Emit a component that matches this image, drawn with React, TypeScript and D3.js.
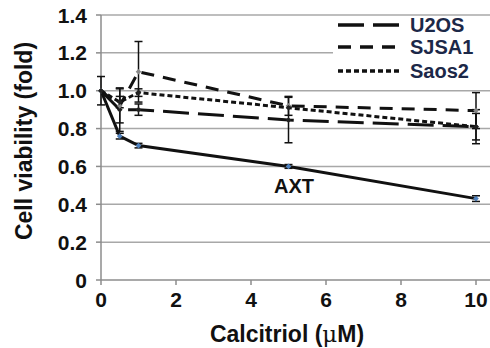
import React from 'react';
import * as d3 from 'd3';

// doses (µM) and the four viability series
const doses = [0, 0.5, 1, 5, 10];
const axt = [1.0, 0.76, 0.71, 0.6, 0.43];
const axtErr = [0.075, 0.015, 0.012, 0.01, 0.015];
const u2os = [1.0, 0.9, 0.9, 0.845, 0.81];
const u2osErr = [0, 0.115, 0.03, 0.12, 0.07];
const sjsa1 = [1.0, 0.92, 1.1, 0.92, 0.895];
const sjsa1Err = [0, 0.09, 0.16, 0.05, 0.095];
const saos2 = [1.0, 0.94, 0.99, 0.91, 0.81];
const saos2Err = [0, 0.03, 0.02, 0, 0.09];

const yTicks = [0, 0.2, 0.4, 0.6, 0.8, 1.0, 1.2, 1.4];
const xTicks = [0, 2, 4, 6, 8, 10];

const legendNames = ['U2OS', 'SJSA1', 'Saos2'];
const legendDash = ['26,9', '13,9', '5,3'];

const W = 490;
const H = 348;
const FONT = '"Liberation Sans", Arial, sans-serif';

const App = () => {
  const x = d3.scaleLinear().domain([0, 10]).range([101, 476]);
  const y = d3.scaleLinear().domain([0, 1.4]).range([280, 15]);

  const line = d3.line<number>()
    .x((_, i) => x(doses[i]))
    .y(d => y(d));

  const series = [
    { vals: axt, err: axtErr, dash: undefined, marker: '#4f81bd' },
    { vals: u2os, err: u2osErr, dash: legendDash[0], marker: '#222' },
    { vals: sjsa1, err: sjsa1Err, dash: legendDash[1], marker: '#888' },
    { vals: saos2, err: saos2Err, dash: legendDash[2], marker: '#222' },
  ];

  return (
    <svg width={W} height={H} style={{ position: 'absolute', left: 0, top: 0, background: '#fff' }} fontFamily={FONT}>
      {/* gridlines */}
      {yTicks.filter(t => t > 0).map(t => (
        <line key={t} x1={101} x2={W} y1={y(t)} y2={y(t)} stroke="#a8a8a8" strokeWidth={1.5} />
      ))}
      {/* axes */}
      <line x1={101} x2={101} y1={y(1.4)} y2={y(0)} stroke="#8c8c8c" strokeWidth={1.5} />
      <line x1={101} x2={W} y1={y(0)} y2={y(0)} stroke="#8c8c8c" strokeWidth={1.5} />
      {yTicks.map(t => (
        <g key={t}>
          <line x1={96} x2={101} y1={y(t)} y2={y(t)} stroke="#8c8c8c" strokeWidth={1.5} />
          <text x={87} y={y(t)} dy="0.36em" textAnchor="end" fontSize={21} fontWeight="bold" fill="#111">
            {t === 0 ? '0' : t.toFixed(1)}
          </text>
        </g>
      ))}
      {xTicks.map(t => (
        <g key={t}>
          <line x1={x(t)} x2={x(t)} y1={y(0)} y2={y(0) + 5} stroke="#8c8c8c" strokeWidth={1.5} />
          <text x={x(t)} y={307} textAnchor="middle" fontSize={21} fontWeight="bold" fill="#111">{t}</text>
        </g>
      ))}

      {/* legend box */}
      <rect x={333} y={16.5} width={W - 333} height={73} fill="#fff" />
      {legendNames.map((name, i) => {
        const ly = [25, 47, 71][i];
        return (
          <g key={name}>
            <line x1={338} x2={402} y1={ly} y2={ly} stroke="#111" strokeWidth={3.5} strokeDasharray={legendDash[i]} />
            <text x={410} y={ly} dy="0.36em" fontSize={20} fontWeight="bold" fill="#1c2848">{name}</text>
          </g>
        );
      })}

      {/* error bars */}
      {series.map((s, si) => s.err.map((e, i) => e > 0 ? (
        <g key={`${si}-${i}`} stroke="#111" strokeWidth={1.5}>
          <line x1={x(doses[i])} x2={x(doses[i])} y1={y(s.vals[i] + e)} y2={y(s.vals[i] - e)} />
          <line x1={x(doses[i]) - 4} x2={x(doses[i]) + 4} y1={y(s.vals[i] + e)} y2={y(s.vals[i] + e)} />
          <line x1={x(doses[i]) - 4} x2={x(doses[i]) + 4} y1={y(s.vals[i] - e)} y2={y(s.vals[i] - e)} />
        </g>
      ) : null))}

      {/* series lines */}
      {series.map((s, si) => (
        <g key={si}>
          <path d={line(s.vals) || ''} fill="none" stroke="#111" strokeWidth={3} strokeDasharray={s.dash} />
          {s.vals.map((v, i) => (
            <rect key={i} x={x(doses[i]) - 2} y={y(v) - 2} width={4} height={4} fill={s.marker}
              transform={`rotate(45 ${x(doses[i])} ${y(v)})`} />
          ))}
        </g>
      ))}

      <text x={294} y={193} textAnchor="middle" fontSize={20} fontWeight="bold" fill="#111">AXT</text>

      {/* axis titles */}
      <text x={287} y={342} textAnchor="middle" fontSize={23} fontWeight="bold" fill="#111">
        Calcitriol (<tspan fontWeight="normal" fontFamily='"DejaVu Serif", serif'>μ</tspan>M)
      </text>
      <text transform="translate(32,141) rotate(-90)" textAnchor="middle" fontSize={23} fontWeight="bold" fill="#111">
        Cell viability (fold)
      </text>
    </svg>
  );
};

export default App;
